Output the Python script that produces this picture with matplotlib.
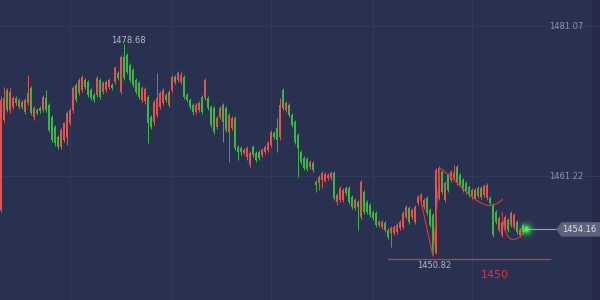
import numpy as np
import matplotlib.pyplot as plt
from matplotlib.path import Path
from matplotlib.patches import PathPatch, Polygon, Rectangle

# candle data (price), one entry per bar
opens = [
    1456.7, 1468.6, 1472.6, 1470.0, 1470.4, 1471.5, 1470.4, 1471.0, 1469.7, 1470.9,
    1472.9, 1469.0, 1470.0, 1470.2, 1470.0, 1471.5, 1470.6, 1469.0, 1467.7, 1466.4,
    1465.1, 1466.0, 1466.4, 1468.2, 1470.0, 1473.3, 1472.2, 1472.6, 1473.9, 1473.7,
    1472.6, 1471.9, 1471.9, 1473.9, 1472.3, 1472.6, 1473.0, 1473.3, 1473.7, 1474.9,
    1472.3, 1477.0, 1477.2, 1475.9, 1475.3, 1473.9, 1473.5, 1471.3, 1471.1, 1471.7,
    1469.0, 1468.4, 1469.3, 1470.4, 1470.9, 1471.9, 1470.6, 1472.6, 1474.3, 1473.9,
    1473.7, 1474.3, 1471.9, 1471.3, 1470.6, 1469.7, 1470.0, 1471.7, 1471.5, 1471.5,
    1470.4, 1470.2, 1467.7, 1469.0, 1470.6, 1470.2, 1467.0, 1467.6, 1468.9, 1465.1,
    1464.9, 1464.3, 1463.7, 1462.7, 1465.1, 1464.3, 1464.4, 1464.0, 1464.4, 1464.7,
    1465.3, 1466.9, 1467.6, 1466.4, 1472.6, 1470.0, 1470.6, 1469.3, 1468.4, 1466.7,
    1464.4, 1463.6, 1463.5, 1462.4, 1462.9, 1460.4, 1460.3, 1460.7, 1460.6, 1461.0,
    1460.9, 1461.6, 1457.8, 1458.1, 1458.0, 1459.6, 1459.6, 1458.4, 1457.0, 1457.8,
    1455.8, 1459.1, 1457.8, 1457.4, 1456.5, 1456.3, 1454.7, 1454.5, 1455.0, 1454.1,
    1453.7, 1453.7, 1453.8, 1454.4, 1454.5, 1455.8, 1457.0, 1455.8, 1455.1, 1457.7,
    1458.1, 1457.1, 1458.3, 1456.7, 1456.1, 1451.0, 1458.3, 1461.8, 1458.1, 1461.4,
    1460.7, 1461.0, 1462.4, 1461.4, 1460.7, 1460.3, 1459.8, 1458.4, 1459.4, 1458.6,
    1459.6, 1458.7, 1458.3, 1458.3, 1457.4, 1456.5, 1454.1, 1453.4, 1454.1, 1455.4,
    1454.7, 1454.5, 1455.1, 1453.4, 1454.7, 1454.5,
]
highs = [
    1471.8, 1473.0, 1472.9, 1472.9, 1471.8, 1471.8, 1471.5, 1471.3, 1471.5, 1474.6,
    1473.1, 1470.5, 1470.2, 1470.5, 1471.9, 1472.6, 1470.9, 1469.3, 1468.0, 1466.7,
    1467.6, 1468.4, 1469.8, 1470.2, 1473.1, 1473.5, 1474.2, 1474.6, 1474.2, 1473.9,
    1472.9, 1472.2, 1474.5, 1474.2, 1473.8, 1473.9, 1474.2, 1473.5, 1475.8, 1475.1,
    1477.2, 1478.68, 1477.5, 1476.2, 1475.5, 1474.2, 1473.8, 1473.1, 1473.0, 1471.9,
    1469.3, 1471.3, 1474.9, 1472.5, 1472.9, 1472.2, 1472.6, 1474.6, 1474.6, 1475.1,
    1475.0, 1474.6, 1472.2, 1471.5, 1470.9, 1470.9, 1471.2, 1471.9, 1474.2, 1471.8,
    1470.6, 1470.5, 1469.2, 1470.5, 1470.9, 1470.5, 1469.6, 1469.2, 1469.2, 1465.3,
    1465.2, 1464.9, 1465.2, 1464.5, 1465.3, 1464.5, 1464.7, 1464.9, 1465.3, 1465.9,
    1467.3, 1467.2, 1468.9, 1471.5, 1472.9, 1471.2, 1470.9, 1469.6, 1468.6, 1466.9,
    1464.7, 1463.9, 1463.8, 1463.3, 1463.2, 1460.7, 1461.4, 1461.9, 1461.8, 1461.6,
    1461.9, 1461.9, 1459.0, 1459.9, 1459.6, 1459.9, 1459.9, 1458.7, 1458.3, 1458.1,
    1460.7, 1459.4, 1458.1, 1457.7, 1456.7, 1456.6, 1455.4, 1455.4, 1455.3, 1454.4,
    1454.6, 1454.7, 1455.0, 1455.4, 1456.6, 1457.4, 1457.3, 1457.0, 1457.4, 1458.7,
    1459.0, 1458.3, 1458.6, 1457.0, 1456.3, 1462.3, 1462.6, 1462.0, 1460.6, 1461.6,
    1462.0, 1462.7, 1462.7, 1461.6, 1461.0, 1460.6, 1460.0, 1459.6, 1459.6, 1459.9,
    1459.9, 1460.2, 1460.3, 1458.6, 1457.7, 1456.7, 1455.9, 1455.4, 1456.1, 1455.7,
    1456.6, 1456.3, 1455.4, 1454.4, 1455.0, 1454.7,
]
lows = [
    1456.5, 1468.4, 1469.7, 1469.6, 1470.1, 1470.6, 1470.1, 1470.1, 1469.4, 1470.6,
    1469.3, 1468.6, 1469.3, 1469.6, 1469.7, 1469.7, 1467.1, 1465.7, 1465.2, 1464.8,
    1464.8, 1465.7, 1465.3, 1468.0, 1469.6, 1471.0, 1471.9, 1472.3, 1472.7, 1471.7,
    1471.3, 1471.0, 1471.7, 1471.4, 1472.1, 1472.3, 1472.7, 1472.6, 1473.4, 1473.9,
    1472.1, 1473.9, 1474.7, 1473.7, 1473.0, 1472.1, 1471.4, 1471.0, 1470.8, 1465.6,
    1467.4, 1468.0, 1469.0, 1470.1, 1470.6, 1471.0, 1470.4, 1472.3, 1473.4, 1473.7,
    1473.4, 1471.4, 1471.0, 1470.1, 1469.3, 1469.4, 1469.7, 1469.4, 1471.3, 1470.0,
    1467.7, 1466.8, 1467.4, 1468.8, 1465.7, 1467.1, 1463.1, 1467.3, 1464.7, 1463.3,
    1464.0, 1464.0, 1463.3, 1462.4, 1463.7, 1463.1, 1463.3, 1463.7, 1464.1, 1464.4,
    1465.1, 1466.1, 1464.4, 1466.0, 1470.0, 1469.7, 1469.0, 1467.7, 1465.5, 1461.1,
    1462.8, 1462.0, 1461.9, 1462.2, 1461.8, 1459.1, 1459.4, 1459.6, 1460.4, 1460.7,
    1460.7, 1458.1, 1457.4, 1457.8, 1457.8, 1458.7, 1457.5, 1456.9, 1456.7, 1454.1,
    1455.5, 1456.2, 1456.2, 1455.8, 1455.4, 1454.5, 1454.5, 1454.2, 1453.8, 1452.9,
    1451.8, 1453.4, 1453.6, 1454.1, 1454.2, 1455.5, 1454.9, 1455.5, 1454.9, 1457.4,
    1457.8, 1456.9, 1456.1, 1454.5, 1450.82, 1450.9, 1458.1, 1458.8, 1457.8, 1459.1,
    1460.4, 1460.7, 1460.0, 1459.8, 1459.1, 1458.8, 1458.4, 1458.2, 1458.1, 1458.3,
    1458.2, 1458.4, 1458.1, 1457.4, 1453.2, 1454.9, 1453.8, 1453.2, 1453.8, 1453.8,
    1454.5, 1454.2, 1453.6, 1453.2, 1453.6, 1453.9,
]
closes = [
    1471.3, 1471.5, 1470.0, 1472.3, 1471.5, 1470.9, 1471.3, 1470.4, 1471.3, 1472.2,
    1469.6, 1470.2, 1469.6, 1469.8, 1471.7, 1470.0, 1467.3, 1466.0, 1465.6, 1465.1,
    1467.3, 1468.2, 1469.6, 1470.0, 1472.9, 1471.3, 1473.9, 1474.3, 1473.0, 1471.9,
    1471.5, 1471.3, 1474.2, 1471.7, 1473.5, 1473.7, 1473.9, 1472.9, 1475.5, 1474.2,
    1477.0, 1474.2, 1475.0, 1473.9, 1473.3, 1472.3, 1471.7, 1472.9, 1472.7, 1468.2,
    1467.7, 1471.0, 1471.5, 1472.2, 1472.6, 1471.3, 1472.3, 1474.3, 1473.7, 1474.9,
    1474.6, 1471.7, 1471.3, 1470.4, 1469.7, 1470.6, 1470.9, 1469.7, 1473.9, 1470.2,
    1468.0, 1467.0, 1468.9, 1470.2, 1468.4, 1467.3, 1469.3, 1468.9, 1464.9, 1464.4,
    1464.4, 1464.7, 1464.9, 1464.3, 1464.0, 1463.3, 1463.6, 1464.7, 1465.1, 1465.6,
    1467.0, 1466.4, 1466.0, 1470.6, 1470.2, 1470.9, 1469.3, 1468.0, 1465.7, 1464.9,
    1463.1, 1462.3, 1462.2, 1463.1, 1462.0, 1460.0, 1461.1, 1461.6, 1461.5, 1461.4,
    1461.6, 1458.3, 1458.7, 1459.6, 1459.4, 1459.0, 1457.8, 1457.1, 1458.1, 1457.1,
    1460.4, 1456.5, 1456.5, 1456.1, 1455.7, 1454.7, 1455.1, 1455.1, 1454.1, 1453.2,
    1454.4, 1454.5, 1454.7, 1455.1, 1456.3, 1457.1, 1455.1, 1456.7, 1457.1, 1458.4,
    1458.7, 1458.1, 1456.3, 1454.7, 1451.2, 1462.0, 1462.3, 1459.1, 1460.3, 1459.4,
    1461.8, 1461.6, 1460.3, 1460.0, 1459.4, 1459.1, 1458.7, 1459.4, 1458.3, 1459.6,
    1458.4, 1459.9, 1460.0, 1457.6, 1453.4, 1455.1, 1455.7, 1455.1, 1455.8, 1454.1,
    1456.3, 1456.1, 1453.8, 1454.1, 1453.8, 1454.16,
]

price_ticks = [1461.22, 1481.07]
support_level = 1450.0
support_line_price = 1450.2
support_span = (129, 183)

# hand-drawn red pattern lines (bar index, price)
v_line = [(139.7, 1458.4), (144.0, 1450.6), (146.3, 1462.3)]
arc1 = [(146.3, 1462.3), (156.0, 1459.3), (161.0, 1455.6), (167.3, 1458.2)]
arc2 = [(167.0, 1456.5), (167.8, 1452.0), (171.5, 1452.0), (175.7, 1454.5)]

bg = '#293151'
up_col = '#e4544b'
dn_col = '#3bb83d'

o = np.array(opens)
h = np.array(highs)
l = np.array(lows)
c = np.array(closes)
x = np.arange(len(c))

fig = plt.figure(figsize=(6, 3), dpi=100)
fig.patch.set_facecolor(bg)
ax = fig.add_axes([0, 0, 1, 1])
ax.set_facecolor(bg)
ax.set_xlim(-0.33, 199.67)
ax.set_ylim(1444.82, 1484.51)

ax.set_yticks(price_ticks)
ax.set_xticks([23, 57, 90, 124, 157])
ax.grid(True, color='#323a5c', linewidth=0.8)
ax.tick_params(length=0, labelleft=False, labelbottom=False)
for s in ax.spines.values():
    s.set_visible(False)
ax.add_patch(Rectangle((0.987, 0), 0.013, 1, transform=ax.transAxes,
                       color='#252b48', zorder=1))

cols = np.where(c >= o, up_col, dn_col)
ax.vlines(x, l, h, colors=cols, linewidth=0.7, zorder=3)
body = np.maximum(np.abs(c - o), 0.1)
ax.bar(x, body, bottom=np.minimum(o, c), width=0.8, color=cols,
       linewidth=0, zorder=3)

# y labels on the right
for p in price_ticks:
    ax.text(0.972, p, f'{p:.2f}', transform=ax.get_yaxis_transform(),
            ha='right', va='center', fontsize=6, color='#8d94aa')

# highest price label
ih = int(np.argmax(h))
ax.annotate(f'{h[ih]:.2f}', (ih, h[ih]), xytext=(3, -1), textcoords='offset points',
            ha='center', va='bottom', fontsize=6, color='#b5bac8', zorder=5)

# support line and labels
ax.plot(support_span, [support_line_price] * 2, color='#d8343c', lw=0.9, zorder=4)
il = int(np.argmin(l))
ax.annotate(f'{l[il]:.2f}', (il, support_line_price), xytext=(1, -1.5),
            textcoords='offset points', ha='center', va='top',
            fontsize=6, color='#b5bac8', zorder=5)
ax.annotate(f'{support_level:.0f}', (164.7, support_line_price), xytext=(0, -8),
            textcoords='offset points', ha='center', va='top',
            fontsize=8, color='#e8303a', zorder=5)

# pattern lines
vx, vy = zip(*v_line)
ax.plot(vx, vy, color='#e0333a', lw=0.8, zorder=4)
for pts in (arc1, arc2):
    path = Path(pts, [Path.MOVETO, Path.CURVE4, Path.CURVE4, Path.CURVE4])
    ax.add_patch(PathPatch(path, facecolor='none', edgecolor='#e0333a', lw=0.8, zorder=4))

# last price glow, line and tag
lx, lp = x[-1], c[-1]
for s, a in [(220, 0.06), (120, 0.12), (60, 0.25), (25, 0.5), (8, 1.0)]:
    ax.scatter([lx], [lp], s=s, color='#3dff4a', alpha=a, linewidths=0, zorder=6)
ax.plot([lx, lx + 10.3], [lp, lp], color='#9aa0b4', lw=0.8, zorder=5)
tag = Polygon([(lx + 10.3, lp), (lx + 12.0, lp + 0.86), (lx + 25, lp + 0.86),
               (lx + 25, lp - 0.86), (lx + 12.0, lp - 0.86)],
              closed=True, color='#5d6479', zorder=6)
ax.add_patch(tag)
ax.text(lx + 17.8, lp, f'{lp:.2f}', ha='center', va='center', fontsize=6,
        color='#e0e3ea', zorder=7)

fig.savefig('out.png', dpi=100, facecolor=bg)
